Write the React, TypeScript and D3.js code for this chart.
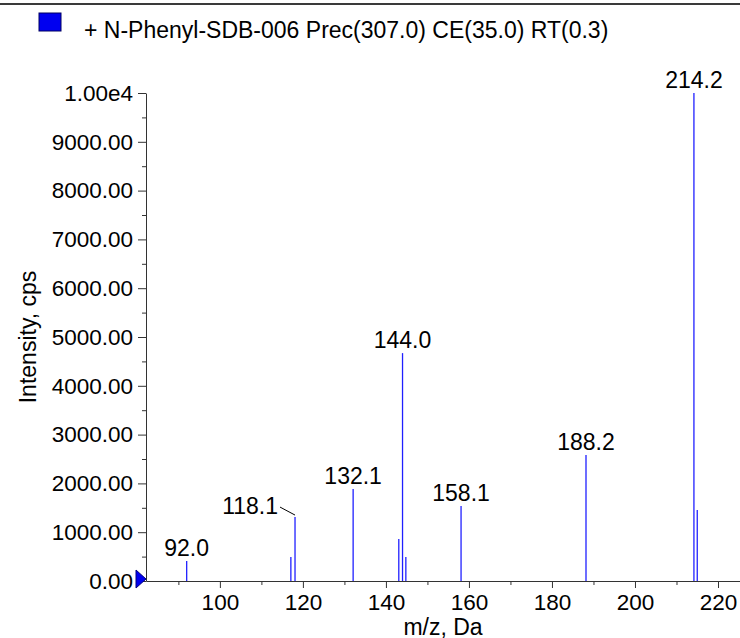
import { useEffect, useRef } from "react";
import * as d3 from "d3";

// spectrum peaks
const title = "+ N-Phenyl-SDB-006 Prec(307.0) CE(35.0) RT(0.3)";
const mzValues = [92.0, 117.1, 118.1, 132.1, 143.1, 144.0, 144.8, 158.1, 188.2, 214.2, 215.0];
const intensities = [410, 490, 1310, 1885, 860, 4670, 490, 1535, 2580, 10000, 1455];
const peakLabels = ["92.0", "", "118.1", "132.1", "", "144.0", "", "158.1", "188.2", "214.2", ""];

// axes
const xMajorTicks = [100, 120, 140, 160, 180, 200, 220];
const xMinorTicks = [90, 110, 130, 150, 170, 190, 210];
const yTicks = [0, 1000, 2000, 3000, 4000, 5000, 6000, 7000, 8000, 9000, 10000];
const yTickLabels = [
  "0.00", "1000.00", "2000.00", "3000.00", "4000.00", "5000.00",
  "6000.00", "7000.00", "8000.00", "9000.00", "1.00e4",
];
const yMinorTicks = [500, 1500, 2500, 3500, 4500, 5500, 6500, 7500, 8500, 9500];
const xLabel = "m/z, Da";
const yLabel = "Intensity, cps";

const FONT = "'Liberation Sans', Arial, sans-serif";
const FS = 23;
const TICK_FS = 22.5;

const App = () => {
  const svgRef = useRef<SVGSVGElement>(null);
  const width = 740;
  const height = 638;

  useEffect(() => {
    const svg = d3.select(svgRef.current);
    svg.selectAll("*").remove();

    const xScale = d3.scaleLinear().domain([82.2, 225.3]).range([146, 740]);
    const yScale = d3.scaleLinear().domain([0, 10000]).range([581, 93]);

    // header
    svg.append("line")
      .attr("x1", 0).attr("x2", width).attr("y1", 4).attr("y2", 4)
      .attr("stroke", "#3a3a3a").attr("stroke-width", 2);
    svg.append("rect")
      .attr("x", 39).attr("y", 13).attr("width", 22).attr("height", 18)
      .attr("fill", "#0000f0").attr("stroke", "#000060");
    svg.append("text")
      .attr("x", 84).attr("y", 38)
      .attr("font-family", FONT).attr("font-size", FS)
      .text(title);

    // axes
    const styleAxis = (g) => {
      g.attr("color", "#333").attr("font-family", FONT).attr("font-size", TICK_FS);
      g.selectAll("text").attr("fill", "#000");
    };

    svg.append("g")
      .attr("transform", `translate(146,0)`)
      .call(d3.axisLeft(yScale).tickValues(yTicks)
        .tickFormat((d, i) => yTickLabels[i]).tickSize(8).tickSizeOuter(0).tickPadding(5))
      .call(styleAxis);
    svg.append("g")
      .attr("transform", `translate(146,0)`)
      .call(d3.axisLeft(yScale).tickValues(yMinorTicks).tickFormat(() => "").tickSize(4).tickSizeOuter(0))
      .call((g) => g.select(".domain").remove())
      .call(styleAxis);

    const y0 = yScale(0);
    svg.append("g")
      .attr("transform", `translate(0,${y0})`)
      .call(d3.axisBottom(xScale).tickValues(xMajorTicks).tickSize(7).tickSizeOuter(0).tickPadding(6))
      .call(styleAxis);
    svg.append("g")
      .attr("transform", `translate(0,${y0})`)
      .call(d3.axisBottom(xScale).tickValues(xMinorTicks).tickFormat(() => "").tickSize(4).tickSizeOuter(0))
      .call((g) => g.select(".domain").remove())
      .call(styleAxis);

    // axis titles
    svg.append("text")
      .attr("x", 443).attr("y", 635).attr("text-anchor", "middle")
      .attr("font-family", FONT).attr("font-size", FS)
      .text(xLabel);
    svg.append("text")
      .attr("transform", "translate(36,337) rotate(-90)").attr("text-anchor", "middle")
      .attr("font-family", FONT).attr("font-size", FS)
      .text(yLabel);

    // baseline marker
    svg.append("path")
      .attr("d", d3.line()([[136, y0 - 11], [136, y0 + 7], [146, y0 - 2]]) + "Z")
      .attr("fill", "#0000f0").attr("stroke", "#000080").attr("stroke-width", 1);

    // peaks
    const peaks = mzValues.map((m, i) => ({ m, v: intensities[i], label: peakLabels[i] }));
    svg.selectAll(".peak")
      .data(peaks)
      .enter()
      .append("line")
      .attr("x1", (d) => xScale(d.m)).attr("x2", (d) => xScale(d.m))
      .attr("y1", y0).attr("y2", (d) => yScale(d.v))
      .attr("stroke", "#2020ff").attr("stroke-width", 1.3);

    const labelled = peaks.filter((d) => d.label !== "");
    labelled.forEach((d) => {
      const px = xScale(d.m);
      const py = yScale(d.v);
      if (d.label === "118.1") {
        // label pushed left with a leader line
        svg.append("line")
          .attr("x1", px - 15).attr("y1", py - 10).attr("x2", px).attr("y2", py - 2)
          .attr("stroke", "#000").attr("stroke-width", 1);
        svg.append("text")
          .attr("x", px - 17).attr("y", py - 3).attr("text-anchor", "end")
          .attr("font-family", FONT).attr("font-size", FS)
          .text(d.label);
      } else {
        svg.append("text")
          .attr("x", px).attr("y", py - 5).attr("text-anchor", "middle")
          .attr("font-family", FONT).attr("font-size", FS)
          .text(d.label);
      }
    });
  }, []);

  return (
    <svg
      ref={svgRef}
      width={width}
      height={height}
      style={{ position: "absolute", left: 0, top: 0, background: "#fff" }}
    />
  );
};

export default App;
